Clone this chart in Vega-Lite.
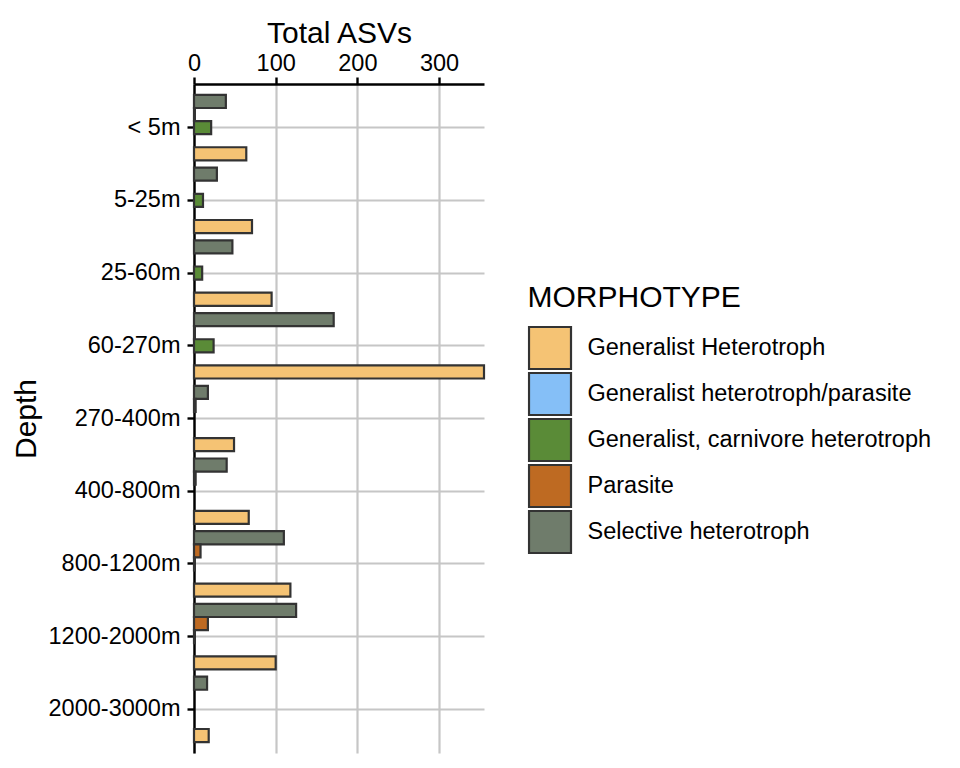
{
  "$schema": "https://vega.github.io/schema/vega-lite/v6.json",
  "autosize": {"type": "none"},
  "padding": {"left": 194, "top": 84, "right": 476, "bottom": 15},
  "width": 290,
  "height": 669,
  "background": "white",
  "data": {
    "values": [
      {"depth": "< 5m", "morphotype": "Selective heterotroph", "asv": 39},
      {"depth": "< 5m", "morphotype": "Parasite", "asv": 1},
      {"depth": "< 5m", "morphotype": "Generalist, carnivore heterotroph", "asv": 21},
      {"depth": "< 5m", "morphotype": "Generalist Heterotroph", "asv": 64},
      {"depth": "5-25m", "morphotype": "Selective heterotroph", "asv": 28},
      {"depth": "5-25m", "morphotype": "Generalist, carnivore heterotroph", "asv": 11},
      {"depth": "5-25m", "morphotype": "Generalist Heterotroph", "asv": 71},
      {"depth": "25-60m", "morphotype": "Selective heterotroph", "asv": 47},
      {"depth": "25-60m", "morphotype": "Generalist, carnivore heterotroph", "asv": 10},
      {"depth": "25-60m", "morphotype": "Generalist Heterotroph", "asv": 95},
      {"depth": "60-270m", "morphotype": "Selective heterotroph", "asv": 171},
      {"depth": "60-270m", "morphotype": "Parasite", "asv": 1},
      {"depth": "60-270m", "morphotype": "Generalist, carnivore heterotroph", "asv": 24},
      {"depth": "60-270m", "morphotype": "Generalist Heterotroph", "asv": 355},
      {"depth": "270-400m", "morphotype": "Selective heterotroph", "asv": 17},
      {"depth": "270-400m", "morphotype": "Parasite", "asv": 2},
      {"depth": "270-400m", "morphotype": "Generalist Heterotroph", "asv": 49},
      {"depth": "400-800m", "morphotype": "Selective heterotroph", "asv": 40},
      {"depth": "400-800m", "morphotype": "Parasite", "asv": 2},
      {"depth": "400-800m", "morphotype": "Generalist Heterotroph", "asv": 67},
      {"depth": "800-1200m", "morphotype": "Selective heterotroph", "asv": 110},
      {"depth": "800-1200m", "morphotype": "Parasite", "asv": 8},
      {"depth": "800-1200m", "morphotype": "Generalist, carnivore heterotroph", "asv": 1},
      {"depth": "800-1200m", "morphotype": "Generalist Heterotroph", "asv": 118},
      {"depth": "1200-2000m", "morphotype": "Selective heterotroph", "asv": 125},
      {"depth": "1200-2000m", "morphotype": "Parasite", "asv": 17},
      {"depth": "1200-2000m", "morphotype": "Generalist, carnivore heterotroph", "asv": 1},
      {"depth": "1200-2000m", "morphotype": "Generalist Heterotroph", "asv": 100},
      {"depth": "2000-3000m", "morphotype": "Selective heterotroph", "asv": 16},
      {"depth": "2000-3000m", "morphotype": "Generalist Heterotroph", "asv": 18}
    ]
  },
  "mark": {"type": "bar", "stroke": "#333333", "strokeWidth": 2.2},
  "encoding": {
    "y": {
      "field": "depth",
      "type": "nominal",
      "scale": {
        "domain": ["< 5m", "5-25m", "25-60m", "60-270m", "270-400m", "400-800m", "800-1200m", "1200-2000m", "2000-3000m"],
        "paddingInner": 0,
        "paddingOuter": 0.1
      },
      "axis": {
        "title": "Depth",
        "bandPosition": 0.5,
        "domainColor": "black",
        "domainWidth": 2.4,
        "tickColor": "black",
        "tickWidth": 2.4,
        "tickSize": 7,
        "labelFont": "Liberation Sans",
        "labelFontSize": 23.5,
        "labelColor": "black",
        "labelPadding": 7,
        "titleFont": "Liberation Sans",
        "titleFontSize": 30,
        "titleFontWeight": "normal",
        "titleColor": "black",
        "titleX": -159,
        "titleBaseline": "alphabetic",
        "grid": true,
        "gridColor": "#C6C6C6",
        "gridWidth": 2.2
      }
    },
    "yOffset": {
      "field": "morphotype",
      "type": "nominal",
      "scale": {
        "domain": ["Selective heterotroph", "Parasite", "Generalist, carnivore heterotroph", "Generalist heterotroph/parasite", "Generalist Heterotroph"],
        "paddingInner": 0,
        "paddingOuter": 0.278
      }
    },
    "x": {
      "field": "asv",
      "type": "quantitative",
      "scale": {"domain": [0, 355], "nice": false, "zero": true},
      "axis": {
        "orient": "top",
        "title": "Total ASVs",
        "values": [0, 100, 200, 300],
        "domainColor": "black",
        "domainWidth": 2.4,
        "tickColor": "black",
        "tickWidth": 2.4,
        "tickSize": 7,
        "labelFont": "Liberation Sans",
        "labelFontSize": 23.5,
        "labelColor": "black",
        "labelPadding": 2,
        "labelFlush": false,
        "titleFont": "Liberation Sans",
        "titleFontSize": 30,
        "titleFontWeight": "normal",
        "titleColor": "black",
        "titleY": -41.3,
        "titleBaseline": "alphabetic",
        "grid": true,
        "gridColor": "#C6C6C6",
        "gridWidth": 2.2
      }
    },
    "color": {
      "field": "morphotype",
      "type": "nominal",
      "scale": {
        "domain": ["Generalist Heterotroph", "Generalist heterotroph/parasite", "Generalist, carnivore heterotroph", "Parasite", "Selective heterotroph"],
        "range": ["#F5C374", "#85BFF7", "#5A8B37", "#BE6A22", "#6F7C6B"]
      },
      "legend": {
        "orient": "none",
        "legendX": 333.5,
        "legendY": 199,
        "title": "MORPHOTYPE",
        "titleFont": "Liberation Sans",
        "titleFontSize": 30,
        "titleFontWeight": "normal",
        "titleColor": "black",
        "titleLimit": 1000,
        "titlePadding": 12,
        "labelFont": "Liberation Sans",
        "labelFontSize": 23.5,
        "labelColor": "black",
        "labelOffset": 15,
        "labelLimit": 1000,
        "symbolType": "square",
        "symbolSize": 1764,
        "symbolStrokeColor": "#333333",
        "symbolStrokeWidth": 2.2,
        "symbolOpacity": 1,
        "clipHeight": 46,
        "rowPadding": 0,
        "padding": 0
      }
    }
  },
  "config": {
    "view": {"stroke": null},
    "font": "Liberation Sans"
  }
}
